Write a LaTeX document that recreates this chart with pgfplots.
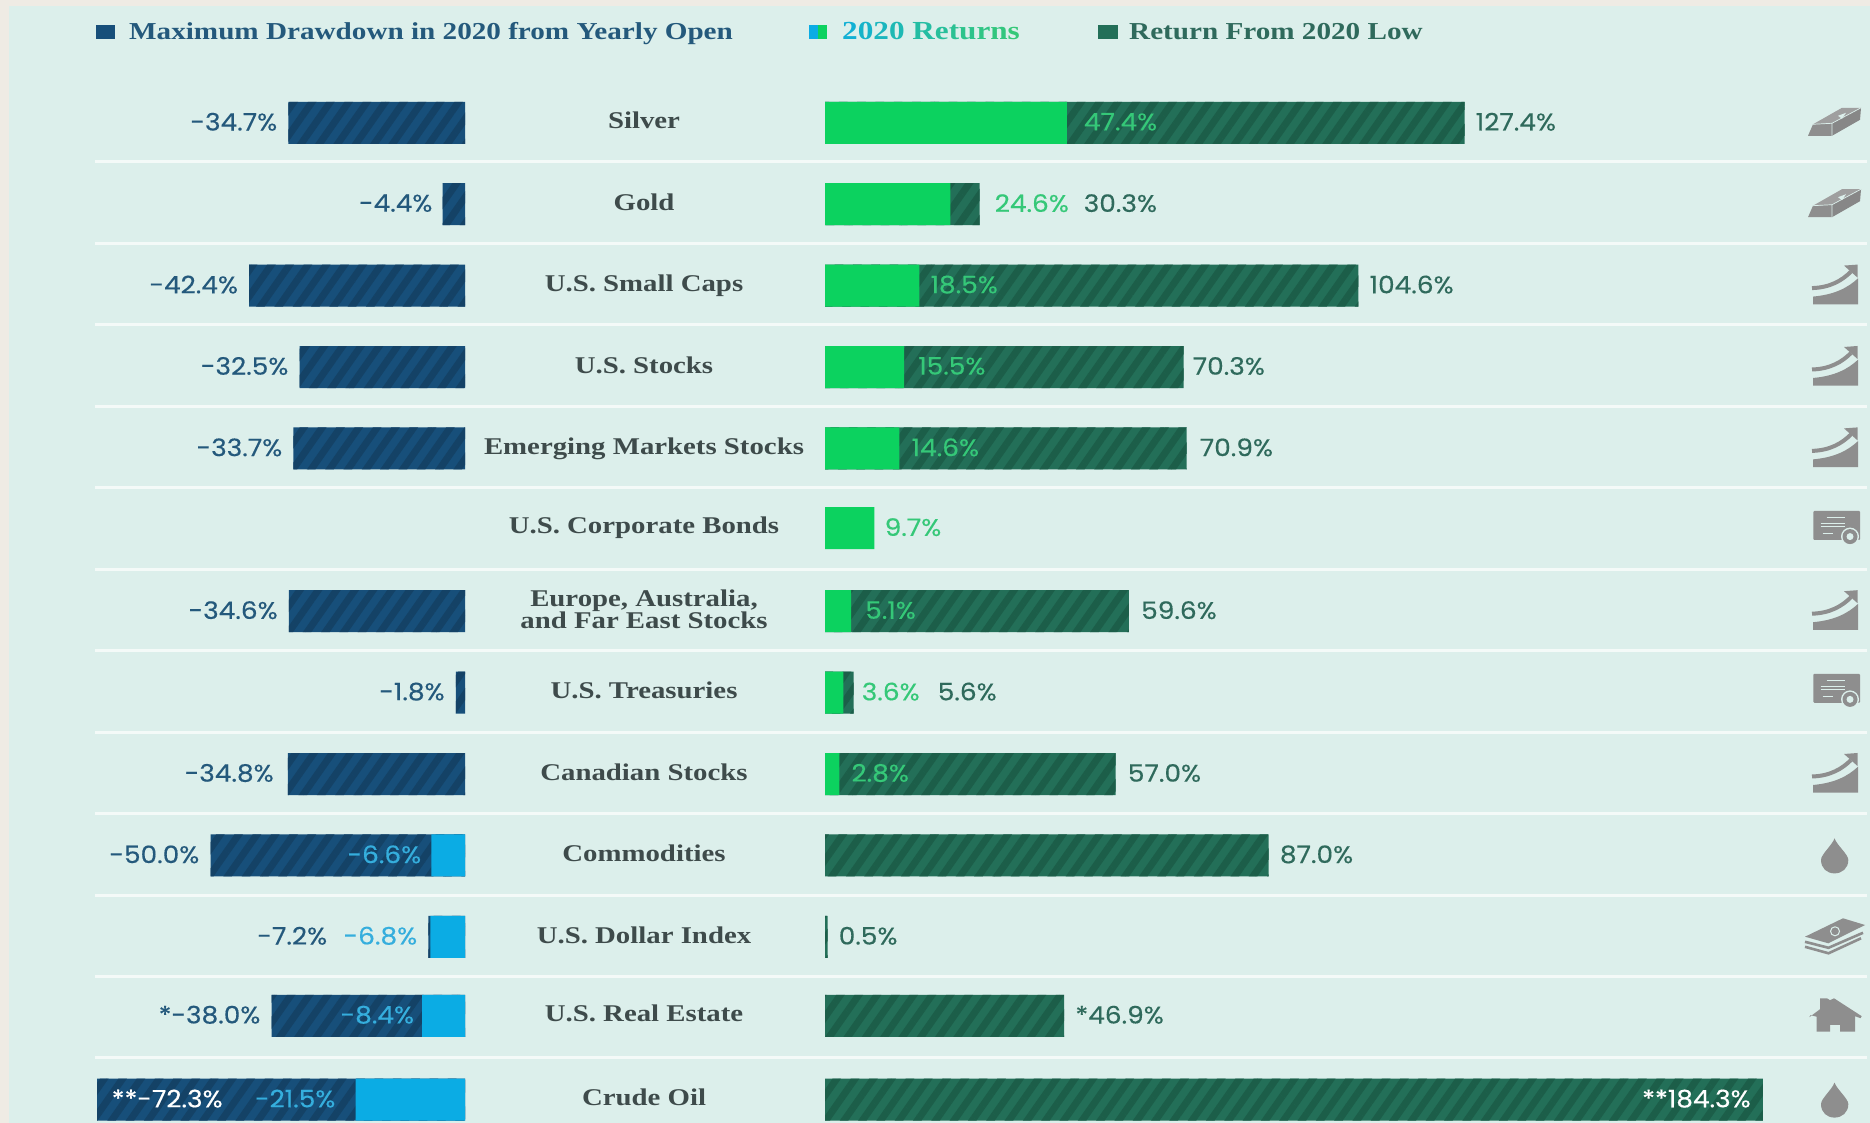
\documentclass[border=0pt]{standalone}
\usepackage{fontspec}
\usepackage{pgfplots}
\usepackage{pgfplotstable}
\pgfplotsset{compat=1.18}
\usetikzlibrary{patterns.meta}
\setmainfont{Liberation Serif}
\newfontfamily\numf{Poppins}[FakeStretch=1.1,FakeBold=0.35]
\newfontfamily\catf{Liberation Serif}[FakeStretch=1.2]
\definecolor{pagebg}{HTML}{EFEBE4}
\definecolor{panel}{HTML}{DCEFEB}
\definecolor{sep}{HTML}{F4FAF8}
\definecolor{navy}{HTML}{174F7A}
\definecolor{navyh}{HTML}{144266}
\definecolor{dgreen}{HTML}{236F58}
\definecolor{dgreenh}{HTML}{1C5E49}
\definecolor{cyanb}{HTML}{0BACE4}
\definecolor{greenb}{HTML}{0CD25F}
\definecolor{tnavy}{HTML}{24597C}
\definecolor{tcyan}{HTML}{35AEDD}
\definecolor{tgreen}{HTML}{35C878}
\definecolor{tdgreen}{HTML}{2F6A5C}
\definecolor{tcat}{HTML}{3E4B4B}
\definecolor{icon}{HTML}{8E8E8E}

% Bar lengths as drawn in the reference (the Silver bar is drawn a little short of its 127.4% label).
\pgfplotstableread{
row val
0 -34.7
1 -4.4
2 -42.4
3 -32.5
4 -33.7
6 -34.6
7 -1.8
8 -34.8
9 -50.0
10 -7.2
10.97 -38.0
12 -72.3
}\drawdown
\pgfplotstableread{
row val
9 -6.6
10 -6.8
10.97 -8.4
12 -21.5
}\negreturn
\pgfplotstableread{
row val
0 125.4
1 30.3
2 104.6
3 70.3
4 70.9
6 59.6
7 5.6
8 57.0
9 87.0
10 0.5
10.97 46.9
12 183.9
}\fromlow
\pgfplotstableread{
row val
0 47.4
1 24.6
2 18.5
3 15.5
4 14.6
4.98 9.7
6 5.1
7 3.6
8 2.8
}\posreturn

\pgfplotsset{
  panelaxis/.style={
    scale only axis, height=1123pt,
    ymin=-1.5086, ymax=12.287, y dir=reverse,
    axis line style={draw=none}, tick style={draw=none},
    major tick length=0pt, xtick=\empty, clip=false},
  hbar/.style={xbar, bar shift=0pt, bar width=42pt, draw=none, forget plot},
}
\newcommand\lab[6][east]{\node[anchor=#1, inner sep=0pt, text=#5, font=\numf\fontsize{24}{26}\selectfont] at (axis cs:#2,#3) [xshift=#4pt, yshift=1pt] {#6};}
\newcommand\cl[1]{\vphantom{Ug}#1}

\newcommand\icscope[2]{\begin{scope}[shift={(1780pt,{(1000.2-81.4*#1)*1pt})},x=1pt,y=1pt]#2\end{scope}}
\newcommand\iconbar{%
 \fill[icon] (28,-13)--(33,-1.5)--(52,-0.5)--(52,-13)--cycle;
 \fill[icon!85!white] (33,-1.5)--(62,15)--(81,15)--(52,-0.5)--cycle;
 \fill[icon!95!black] (81,15)--(80,3)--(52,-13)--(52,-0.5)--cycle;
 \draw[panel,line width=.7pt] (33,-1.5)--(52,-0.5)--(52,-13) (52,-0.5)--(81,15);
 \fill[panel] (58,7)--(66,10)--(62,4)--cycle;}
\newcommand\iconarrow{%
 \fill[icon] (33,-18.7)--(33,-11) .. controls (55,-9) and (68,-2) .. (78,7.3)--(78,-18.7)--cycle;
 \draw[icon,line width=4pt] (32,-2.5) .. controls (50,-2) and (62,5) .. (71,14);
 \fill[icon] (64,20)--(77.5,21)--(77.5,8)--cycle;}
\newcommand\iconbond{%
 \fill[icon,rounded corners=1pt] (33.3,-10.2) rectangle (80,18.8);
 \draw[panel,line width=1pt] (46.7,12)--(65,12) (40.7,6)--(65,6) (40.7,3)--(65,3) (42.7,-3.5)--(53.3,-3.5);
 \fill[panel] (70,-6.8) circle (9);
 \fill[icon] (70,-6.8) circle (7.5);
 \fill[panel] (70,-6.8) circle (3.5);}
\newcommand\icondrop{%
 \fill[icon] (54.5,17) .. controls (52,10) and (41,1) .. (41,-4.5) .. controls (41,-13) and (47,-18) .. (54.5,-18) .. controls (62,-18) and (68.3,-13) .. (68.3,-4.5) .. controls (68.3,1) and (57,10) .. (54.5,17)--cycle;}
\newcommand\iconmoney{%
 \draw[icon,line width=2.6pt,line join=round] (25,-5)--(48.5,-11)--(83,4);
 \draw[icon,line width=2.6pt,line join=round] (25,-10)--(48.5,-16.5)--(81,-1.5);
 \fill[icon] (25,0.1)--(63,18.5)--(85,11.8)--(48.3,-6.5)--cycle;
 \draw[panel,line width=1pt] (55,5.5) circle (4.5);}
\newcommand\iconhouse{%
 \fill[icon] (29.3,1)--(40,9)--(40,19.9)--(47,19.9)--(50,18)--(54,19.9)--(81.7,2)--(80.5,0)--(75,2)--(75,-13.5)--(60,-13.5)--(60,-6.8)--(50,-6.8)--(50,-13.5)--(36.7,-13.5)--(36.7,1.5)--(30.5,3)--cycle;}

\begin{document}
\begin{tikzpicture}[x=1pt,y=1pt]
\useasboundingbox (0,0) rectangle (1870,1123);
\fill[pagebg] (0,0) rectangle (1870,1123);
\fill[panel] (9,0) rectangle (1870,1117);
% row separators
\foreach \i in {0,...,11} {
  \draw[sep,line width=3pt] (95,{1123-162-81.45*\i})--(1867,{1123-162-81.45*\i});
}

% left panel
\begin{axis}[panelaxis, at={(0pt,0pt)}, anchor=south west, width=465pt,
  xmin=-91.36, xmax=0,
  ytick={0,1,2,3,4,4.97,5.97,7,8,9,10,10.97,12}, yticklabel pos=right,
  yticklabels={\cl{Silver},\cl{Gold},\cl{U.S. Small Caps},\cl{U.S. Stocks},\cl{Emerging Markets Stocks},\cl{U.S. Corporate Bonds},{Europe, Australia,\\and Far East Stocks},\cl{U.S. Treasuries},\cl{Canadian Stocks},\cl{Commodities},\cl{U.S. Dollar Index},\cl{U.S. Real Estate},\cl{Crude Oil}},
  y tick label style={anchor=center, align=center, xshift=179pt, yshift=-0.5pt, text=tcat,
     font=\catf\bfseries\fontsize{24}{22}\selectfont},
]
\addplot[hbar, fill=navy] table[x=val,y=row] {\drawdown};
\addplot[hbar, pattern={Lines[angle=55,distance=15pt,line width=7pt]}, pattern color=navyh] table[x=val,y=row] {\drawdown};
\addplot[hbar, fill=cyanb] table[x=val,y=row] {\negreturn};
\lab{-34.7}{0}{-11}{tnavy}{-34.7\%}
\lab{-4.4}{1}{-10}{tnavy}{-4.4\%}
\lab{-42.4}{2}{-11}{tnavy}{-42.4\%}
\lab{-32.5}{3}{-11}{tnavy}{-32.5\%}
\lab{-33.7}{4}{-11}{tnavy}{-33.7\%}
\lab{-34.6}{6}{-11}{tnavy}{-34.6\%}
\lab{-1.8}{7}{-11}{tnavy}{-1.8\%}
\lab{-34.8}{8}{-14}{tnavy}{-34.8\%}
\lab{-50.0}{9}{-11}{tnavy}{-50.0\%}
\lab{-6.6}{9}{-10}{tcyan}{-6.6\%}
\lab{-7.2}{10}{-101}{tnavy}{-7.2\%}
\lab{-6.8}{10}{-13}{tcyan}{-6.8\%}
\lab{-38.0}{10.97}{-11}{tnavy}{*-38.0\%}
\lab{-8.4}{10.97}{-8}{tcyan}{-8.4\%}
\lab[west]{-72.3}{12}{14.5}{white}{**-72.3\%}
\lab{-21.5}{12}{-20}{tcyan}{-21.5\%}
\end{axis}

% right panel
\begin{axis}[panelaxis, at={(825pt,0pt)}, anchor=south west, width=1045pt,
  xmin=0, xmax=204.9, ytick=\empty]
\addplot[hbar, fill=dgreen] table[x=val,y=row] {\fromlow};
\addplot[hbar, pattern={Lines[angle=55,distance=15pt,line width=7pt]}, pattern color=dgreenh] table[x=val,y=row] {\fromlow};
\addplot[hbar, fill=greenb] table[x=val,y=row] {\posreturn};
\lab[west]{47.4}{0}{17}{tgreen}{47.4\%}
\lab[west]{125.4}{0}{11}{tdgreen}{127.4\%}
\lab[west]{30.3}{1}{15}{tgreen}{24.6\%}
\lab[west]{30.3}{1}{104}{tdgreen}{30.3\%}
\lab[west]{18.5}{2}{11}{tgreen}{18.5\%}
\lab[west]{104.6}{2}{11}{tdgreen}{104.6\%}
\lab[west]{15.5}{3}{14}{tgreen}{15.5\%}
\lab[west]{70.3}{3}{9}{tdgreen}{70.3\%}
\lab[west]{14.6}{4}{12}{tgreen}{14.6\%}
\lab[west]{70.9}{4}{13}{tdgreen}{70.9\%}
\lab[west]{9.7}{4.98}{10}{tgreen}{9.7\%}
\lab[west]{5.1}{6}{14}{tgreen}{5.1\%}
\lab[west]{59.6}{6}{12}{tdgreen}{59.6\%}
\lab[west]{5.6}{7}{8}{tgreen}{3.6\%}
\lab[west]{5.6}{7}{84}{tdgreen}{5.6\%}
\lab[west]{2.8}{8}{12}{tgreen}{2.8\%}
\lab[west]{57.0}{8}{12}{tdgreen}{57.0\%}
\lab[west]{87.0}{9}{11}{tdgreen}{87.0\%}
\lab[west]{0.5}{10}{11}{tdgreen}{0.5\%}
\lab[west]{46.9}{10.97}{11}{tdgreen}{*46.9\%}
\lab{183.9}{12}{-12}{white}{**184.3\%}
\end{axis}

% legend
\fill[navy] (96,1084) rectangle (115,1098);
\node[anchor=base west,inner sep=0pt,text=tnavy,font=\catf\bfseries\fontsize{24.3}{24}\selectfont] at (129,1083) {Maximum Drawdown in 2020 from Yearly Open};
\fill[cyanb] (809,1084) rectangle (818,1098);
\fill[greenb] (818,1084) rectangle (827,1098);
\node[anchor=base west,inner sep=0pt,font=\catf\bfseries\fontsize{26}{24}\selectfont] at (842,1083) {\textcolor{cyanb!85!tgreen}{2}\textcolor{cyanb!75!tgreen}{0}\textcolor{cyanb!65!tgreen}{2}\textcolor{cyanb!55!tgreen}{0} \textcolor{cyanb!40!tgreen}{R}\textcolor{cyanb!32!tgreen}{e}\textcolor{cyanb!25!tgreen}{t}\textcolor{cyanb!18!tgreen}{u}\textcolor{cyanb!12!tgreen}{r}\textcolor{cyanb!6!tgreen}{n}\textcolor{tgreen}{s}};
\fill[dgreen] (1098,1084) rectangle (1118,1098);
\node[anchor=base west,inner sep=0pt,text=tdgreen,font=\catf\bfseries\fontsize{24.3}{24}\selectfont] at (1129,1083) {Return From 2020 Low};

% icons
\icscope{0}{\iconbar}
\icscope{1}{\iconbar}
\icscope{2}{\iconarrow}
\icscope{3}{\iconarrow}
\icscope{4}{\iconarrow}
\icscope{5}{\iconbond}
\icscope{6}{\iconarrow}
\icscope{7}{\iconbond}
\icscope{8}{\iconarrow}
\icscope{9}{\icondrop}
\icscope{10}{\iconmoney}
\icscope{11}{\iconhouse}
\icscope{12}{\icondrop}
\end{tikzpicture}
\end{document}
